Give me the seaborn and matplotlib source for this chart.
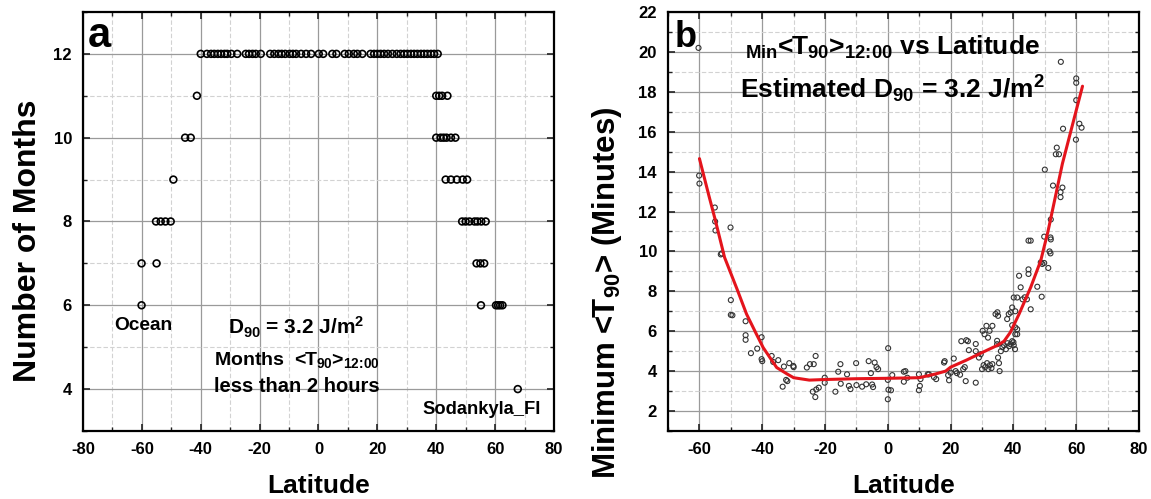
import matplotlib
matplotlib.use("Agg")
import matplotlib.pyplot as plt
import seaborn as sns
import numpy as np
import pandas as pd
from matplotlib.ticker import MultipleLocator
from matplotlib.mathtext import MathTextParser

# ---------------- data: panel a ----------------
lat_12 = [-40.0, -37.9, -36.5, -35.4, -34.2, -33.1, -31.9, -31.0, -29.6, -27.6, -24.7, -23.6,
          -22.4, -21.3, -19.6, -16.4, -15.0, -13.6, -12.5, -11.3, -9.8, -8.7, -7.6, -5.9, -4.2,
          -2.5, 0.1, 1.6, 4.7, 6.1, 8.9, 10.3, 12.0, 13.2, 14.9, 17.7, 18.9, 20.0, 21.1, 22.3,
          23.6, 25.1, 26.6, 27.9, 29.1, 30.2, 31.4, 32.5, 33.6, 34.8, 35.9, 37.0, 38.2, 39.3, 40.5]
lat_11 = [-41.3, 40.0, 41.0, 42.0, 43.8]
lat_10 = [-45.3, -43.4, 40.0, 41.5, 42.5, 43.5, 45.0, 46.5]
lat_9 = [-49.3, 43.2, 45.0, 47.0, 49.0, 50.5]
lat_8 = [-55.2, -53.6, -52.0, -50.2, 48.8, 50.0, 51.3, 53.0, 54.0, 55.3, 56.8]
lat_7 = [-60.1, -55.0, 53.7, 55.0, 56.3]
lat_6 = [-60.1, 55.2, 60.3, 61.0, 61.7, 62.5]
lat_4 = [67.7]
month_rows = [12, 11, 10, 9, 8, 7, 6, 4]

# ---------------- data: panel b ----------------
lat_b = [-60.3, -60.1, -60.0, -55.1, -55.0, -54.9, -50.1, -53.2, -52.9, -50.0, -50.0, -49.5,
         -45.3, -45.3, -45.3, -43.6, -41.6, -40.2, -40.2, -40.0, -37.0, -36.5, -34.9, -33.1,
         -31.4, -30.1, -32.4, -32.0, -33.5, -30.0,
         -25.8, -24.8, -23.6, -23.0, -23.9, -23.1, -22.8, -22.0, -20.1, -20.1, -16.7, -15.8,
         -15.1, -15.0, -13.0, -12.4, -11.9, -10.1, -10.0, -8.2, -6.9, -6.1, -5.4, -5.0, -4.7,
         -4.2, -3.6, -3.1, 0.1, 0.0, 0.2, 1.0, 0.0, 1.4, 5.1, 5.6, 5.1, 6.2, 9.9, 10.4, 10.2,
         9.9, 12.7, 13.1, 14.7, 15.4, 17.9, 18.1, 19.2, 19.5, 20.0, 21.0, 21.6, 22.0, 23.0,
         23.4, 24.5, 25.5, 24.0, 24.8, 25.0, 25.8, 28.0, 28.0, 28.0, 29.0, 29.6,
         30.0, 30.5, 31.0, 31.6, 32.0, 32.5, 33.0, 33.3, 30.2, 30.8, 31.4, 31.9, 32.4, 33.3,
         34.3, 34.9, 35.1, 34.8, 34.8, 35.1, 35.4, 35.6, 36.0, 36.5, 37.0, 37.6, 38.1, 38.6,
         39.1, 39.6, 40.1, 40.5, 40.0, 38.0, 38.5, 39.1, 39.6, 39.6, 40.1, 40.6, 40.6, 41.2,
         41.2, 41.2, 40.6, 41.8, 42.3, 42.9, 43.6, 44.3, 44.8, 44.8, 45.5, 47.6, 49.0, 49.2,
         51.1, 44.8, 51.5, 51.8, 51.8, 48.7, 49.8,
         55.1, 60.0, 60.0, 60.0, 61.0, 61.7, 59.9, 55.8, 53.8, 53.5, 54.5, 50.0, 52.6, 55.6,
         55.0, 55.0, 51.9, 51.9, 49.8, 45.5]
min_t90 = [20.2, 13.8, 13.4, 12.2, 11.5, 11.05, 11.2, 9.85, 9.9, 7.56, 6.82, 6.8,
           6.5, 5.8, 5.57, 4.9, 5.13, 5.7, 4.6, 4.5, 4.76, 4.46, 4.55, 4.23,
           4.4, 4.26, 3.56, 3.5, 3.22, 4.2,
           4.18, 4.35, 4.35, 4.76, 2.97, 2.7, 3.08, 3.17, 3.67, 3.42, 2.97, 3.97,
           4.35, 3.37, 3.84, 3.26, 3.1, 4.4, 3.3, 3.22, 3.34, 4.5, 3.9, 3.33, 3.2,
           4.43, 4.2, 4.1, 5.15, 3.56, 3.07, 3.04, 2.59, 3.8, 3.97, 4.0, 3.47, 3.67, 3.84, 3.6, 3.26,
           3.04, 3.84, 3.84, 3.7, 3.6, 4.43, 4.5, 3.8, 3.54, 3.92, 4.63, 4.0, 3.9, 3.82,
           5.5, 4.2, 5.5, 4.1, 3.5, 5.55, 5.05, 3.42, 5.36, 5.0, 4.68, 4.85,
           4.1, 4.3, 4.2, 4.4, 4.1, 4.3, 4.15, 4.35, 6.02, 5.85, 6.27, 5.68, 6.02, 6.27,
           6.86, 6.95, 6.77, 5.52, 5.35, 4.68, 4.4, 4.0, 5.0, 5.2, 5.3, 5.1, 5.4, 5.25,
           5.35, 5.5, 5.3, 5.1, 5.45, 6.61, 6.86, 6.94, 7.19, 6.3, 7.69, 7.0, 6.19, 5.85,
           7.69, 6.1, 5.85, 8.78, 8.2, 7.6, 7.7, 7.6, 9.1, 8.87, 7.1, 8.23, 7.73, 9.37,
           9.17, 10.54, 10.0, 9.9, 10.7, 9.45, 9.42,
           19.5, 18.67, 18.45, 17.58, 16.4, 16.2, 15.6, 16.15, 15.2, 14.87, 14.87, 14.1, 13.3, 13.2,
           12.97, 12.72, 11.6, 10.6, 10.74, 10.54]

fit_lat = [-60, -57, -55, -52, -48, -45, -42, -39.7, -37, -35.4, -32, -30, -25, -20, -10, 0,
           10, 15, 18.4, 20, 25, 30, 35, 37, 39, 41.8, 45.5, 48.7, 51, 55.6, 62]
fit_val = [14.65, 12.8, 11.6, 9.7, 8.1, 6.86, 5.9, 5.18, 4.55, 4.18, 3.85, 3.67, 3.55, 3.58,
           3.62, 3.64, 3.67, 3.85, 4.0, 4.2, 4.55, 4.93, 5.3, 5.5, 5.94, 6.86, 8.2, 9.54, 11.0,
           14.4, 18.28]

# ---------------- style ----------------
sns.set_style("white")
plt.rcParams['font.family'] = ['Liberation Sans', 'DejaVu Sans']
plt.rcParams['font.weight'] = 'bold'
plt.rcParams['axes.unicode_minus'] = False
plt.rcParams['text.color'] = 'black'
plt.rcParams['axes.labelcolor'] = 'black'
plt.rcParams['xtick.color'] = 'black'
plt.rcParams['ytick.color'] = 'black'
plt.rcParams['mathtext.fontset'] = 'custom'
for k in ['rm', 'it', 'bf', 'sf']:
    plt.rcParams['mathtext.' + k] = 'Liberation Sans:bold'
plt.rcParams['mathtext.default'] = 'rm'

# colon without relation spacing
COLON = r'\colon'
try:
    MathTextParser('agg').parse(r'$12\colon00$', dpi=100)
except Exception:
    COLON = r'\!:\!'
TIME = '12' + COLON + '00'

fig = plt.figure(figsize=(11.51, 4.99), dpi=100)
ax1 = fig.add_axes([0.0721, 0.1363, 0.4092, 0.8397])
ax2 = fig.add_axes([0.5804, 0.1363, 0.4092, 0.8397])

rows = [lat_12, lat_11, lat_10, lat_9, lat_8, lat_7, lat_6, lat_4]
xs, ys = [], []
for r, lats in zip(month_rows, rows):
    xs += lats
    ys += [r] * len(lats)
df_a = pd.DataFrame({'lat': xs, 'months': ys})
df_b = pd.DataFrame({'lat': lat_b, 'min': min_t90})
df_fit = pd.DataFrame({'lat': fit_lat, 'val': fit_val})


def style_axes(ax):
    ax.grid(True, which='major', color='#9a9a9a', lw=0.9, zorder=0)
    ax.grid(True, which='minor', color='#d2d2d2', lw=0.8, ls=(0, (4, 2)), zorder=0)
    ax.set_axisbelow(True)
    for s in ax.spines.values():
        s.set_visible(True)
        s.set_color('black')
        s.set_linewidth(1.6)
    ax.tick_params(which='both', direction='in', top=True, right=True, bottom=True, left=True,
                   color='#222222')
    ax.tick_params(which='major', length=5, width=1.2, labelsize=12, pad=8)
    ax.tick_params(which='minor', length=3, width=1.0)
    for lab in ax.get_xticklabels() + ax.get_yticklabels():
        lab.set_fontweight('bold')


# ---- panel a ----
sns.scatterplot(data=df_a, x='lat', y='months', ax=ax1, marker='o', s=24,
                facecolors='none', edgecolor='black', linewidth=1.2, zorder=3, legend=False)
ax1.set_xlim(-80, 80)
ax1.set_ylim(3, 13)
ax1.xaxis.set_major_locator(MultipleLocator(20))
ax1.xaxis.set_minor_locator(MultipleLocator(10))
ax1.yaxis.set_major_locator(MultipleLocator(2))
ax1.yaxis.set_minor_locator(MultipleLocator(1))
ax1.set_yticks([4, 6, 8, 10, 12])
style_axes(ax1)
ax1.set_xlabel('Latitude', fontsize=19, fontweight='bold', labelpad=12)
ax1.set_ylabel('Number of Months', fontsize=23, fontweight='bold')
ax1.yaxis.set_label_coords(-0.084, 0.455)
ax1.text(0.011, 0.916, 'a', transform=ax1.transAxes, fontsize=30, fontweight='bold',
         va='baseline', ha='left')
ax1.text(-59.6, 5.41, 'Ocean', fontsize=13.8, fontweight='bold', ha='center', va='baseline')
ax1.text(-7.5, 5.30, r'D$_{90}$ = 3.2 J/m$^{2}$', fontsize=15, fontweight='bold',
         ha='center', va='baseline')
ax1.text(-7.2, 4.57, r'Months  <T$_{90}$>$_{' + TIME + '}$', fontsize=14, fontweight='bold',
         ha='center', va='baseline')
ax1.text(-7.4, 3.92, 'less than 2 hours', fontsize=14.5, fontweight='bold',
         ha='center', va='baseline')
ax1.text(55.5, 3.40, 'Sodankyla_FI', fontsize=13.2, fontweight='bold', ha='center', va='baseline')

# ---- panel b ----
sns.scatterplot(data=df_b, x='lat', y='min', ax=ax2, marker='o', s=13,
                facecolors='none', edgecolor='#333333', linewidth=0.8, zorder=3, legend=False)
sns.lineplot(data=df_fit, x='lat', y='val', ax=ax2, color='#e4141c', lw=2.2,
             estimator=None, sort=False, zorder=4, legend=False)
ax2.set_xlim(-70, 80)
ax2.set_ylim(1, 22)
ax2.xaxis.set_major_locator(MultipleLocator(20))
ax2.xaxis.set_minor_locator(MultipleLocator(10))
ax2.set_xticks([-60, -40, -20, 0, 20, 40, 60, 80])
ax2.yaxis.set_minor_locator(MultipleLocator(1))
ax2.set_yticks([2, 4, 6, 8, 10, 12, 14, 16, 18, 20, 22])
style_axes(ax2)
ax2.set_xlabel('Latitude', fontsize=19, fontweight='bold', labelpad=12)
ax2.set_ylabel(r'Minimum <T$_{90}$> (Minutes)', fontsize=22.5, fontweight='bold')
ax2.yaxis.set_label_coords(-0.094, 0.329)
ax2.text(0.015, 0.916, 'b', transform=ax2.transAxes, fontsize=26, fontweight='bold',
         va='baseline', ha='left')
ax2.text(1.5, 19.87, r'${}_{Min}$<T$_{90}$>$_{' + TIME + '}$ vs Latitude', fontsize=19,
         fontweight='bold', ha='center', va='baseline')
ax2.text(1.5, 17.66, r'Estimated D$_{90}$ = 3.2 J/m$^{2}$', fontsize=19,
         fontweight='bold', ha='center', va='baseline')

fig.savefig('out.png', dpi=100)
